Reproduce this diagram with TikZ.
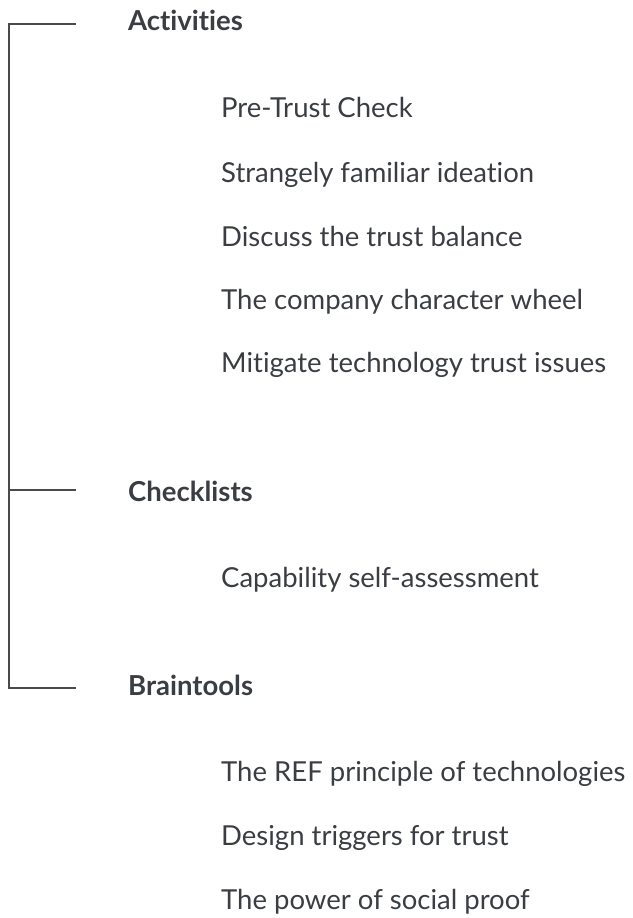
\documentclass[tikz,border=0pt]{standalone}
\usepackage{fontspec}
\setmainfont{Lato}[Ligatures=NoCommon]
\usepackage{tikz}
\definecolor{guidefg}{HTML}{3A3D42}
\definecolor{guideline}{HTML}{4A4A4A}

\begin{document}
\begin{tikzpicture}[x=1pt,y=-1pt,font=\fontsize{27.5}{33}\selectfont]
  \tikzstyle{heading}=[font=\fontsize{27.5}{33}\selectfont\bfseries, text=guidefg, anchor=base west, inner sep=0pt]
  \tikzstyle{entry}=[text=guidefg, anchor=base west, inner sep=0pt]
  \tikzstyle{bracket}=[draw=guideline, line width=2pt]

  \path[use as bounding box] (0,0) rectangle (632,918);

  \node[heading] (activities) at (128,30) {Activities};
  \foreach \y/\t [count=\i] in {
    117/Pre-Trust Check,182/Strangely familiar ideation,246/Discuss the trust balance,
    309/The company character wheel,372/Mitigate technology trust issues
  } {
    \node[entry] (activity\i) at (221,\y) {\t};
  }

  \node[heading] (checklists) at (128,501) {Checklists};
  \node[entry] (checklist1) at (221,587) {Capability self-assessment};

  \node[heading] (braintools) at (128,695) {Braintools};
  \foreach \y/\t [count=\i] in {
    781/The REF principle of technologies,845/Design triggers for trust,909/The power of social proof
  } {
    \node[entry] (braintool\i) at (221,\y) {\t};
  }

  \coordinate (acttop) at (9,24);
  \coordinate (actend) at (76,24);
  \coordinate (chkmid) at (9,490);
  \coordinate (chkend) at (76,490);
  \coordinate (brabot) at (9,688);
  \coordinate (braend) at (76,688);
  \draw[bracket] (actend) -- (acttop) -- (brabot) -- (braend);
  \draw[bracket] (chkmid) -- (chkend);
\end{tikzpicture}
\end{document}
